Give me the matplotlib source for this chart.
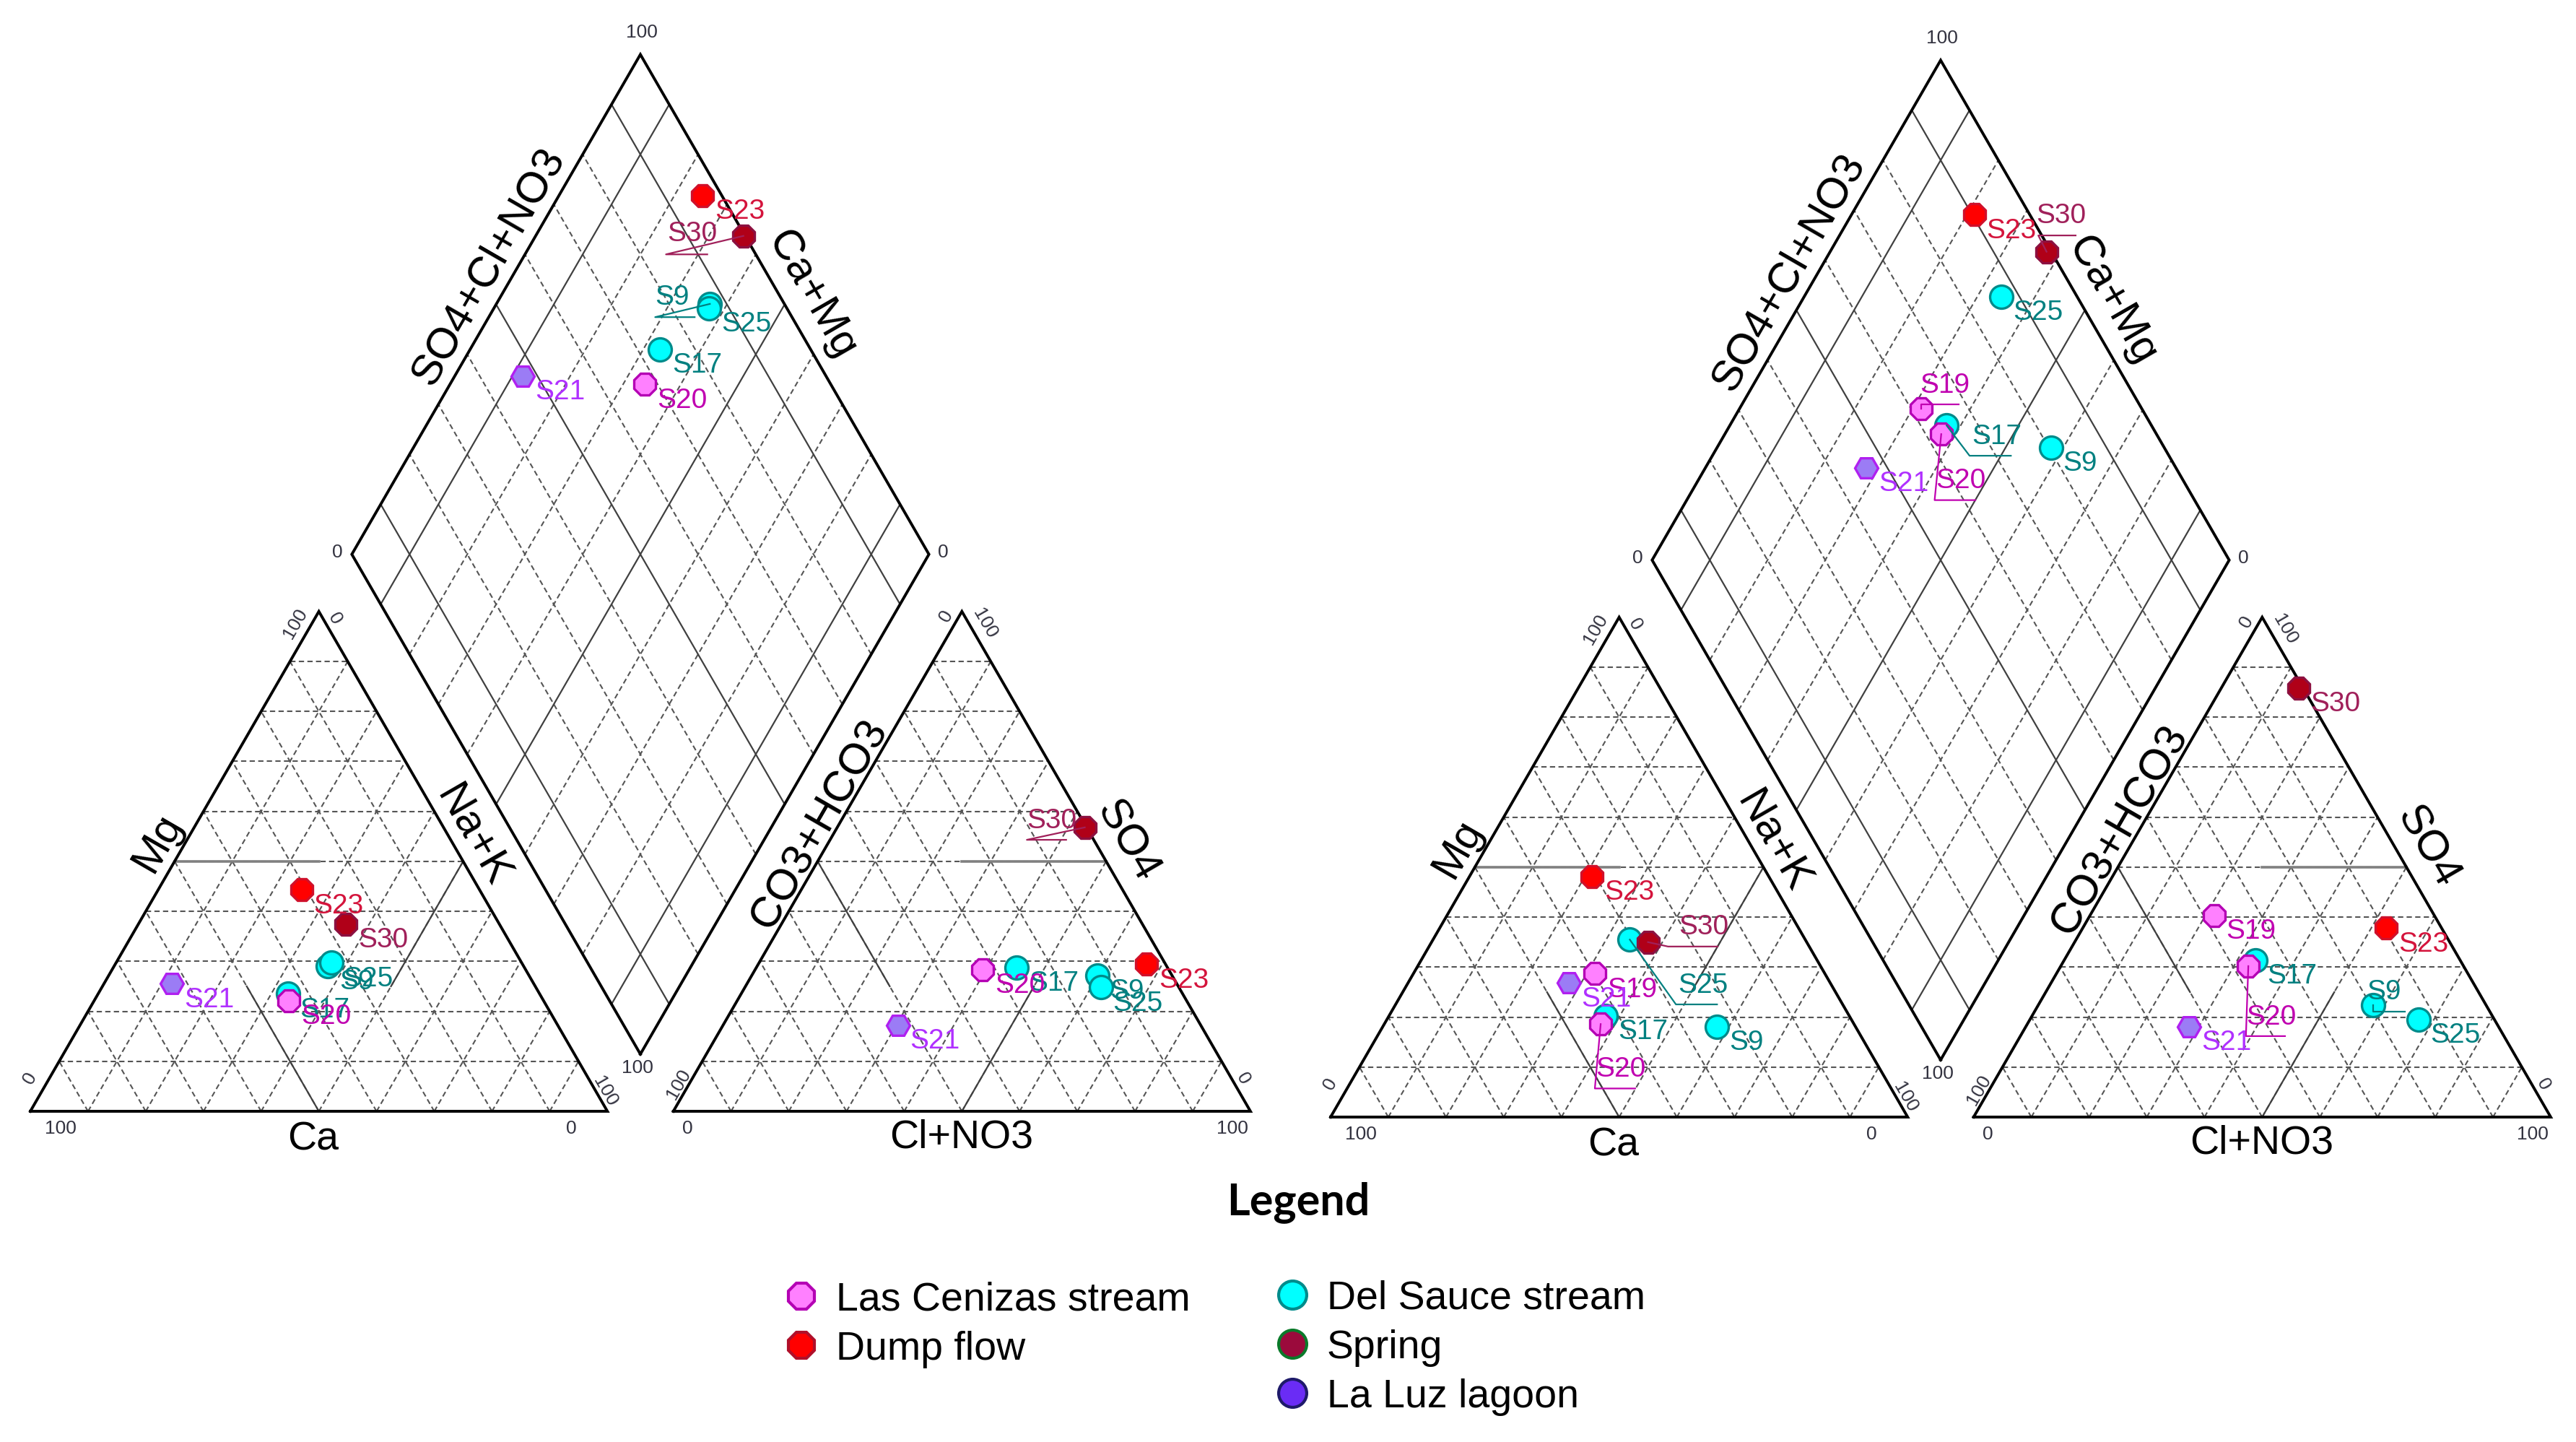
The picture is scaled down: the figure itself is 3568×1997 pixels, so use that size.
import numpy as np
import matplotlib
matplotlib.use('Agg')
import matplotlib.pyplot as plt
import matplotlib.transforms as mtransforms
from matplotlib.lines import Line2D

plt.rcParams['font.family'] = ['Liberation Sans', 'DejaVu Sans']

# ---- data: ion percentages (meq %) ----
# left diagram
samples_a = ['S9', 'S17', 'S20', 'S21', 'S23', 'S25', 'S30']
ca_a = [34.0, 43.6, 44.1, 62.7, 30.8, 33.0, 26.6]
mg_a = [29.0, 23.5, 22.1, 25.5, 44.3, 29.7, 37.4]
nak_a = [37.0, 32.9, 33.8, 11.8, 24.9, 37.3, 36.0]
hco3_a = [12.9, 26.1, 32.2, 52.5, 3.3, 13.5, 0.3]
so4_a = [27.2, 28.8, 28.3, 17.2, 29.4, 24.8, 56.8]
cl_a = [59.9, 45.1, 39.5, 30.3, 67.3, 61.7, 42.9]

# right diagram
samples_b = ['S9', 'S17', 'S19', 'S20', 'S21', 'S23', 'S25', 'S30']
ca_b = [24.0, 42.2, 39.8, 43.9, 45.3, 30.6, 30.4, 27.5]
mg_b = [18.1, 20.2, 28.7, 18.6, 26.8, 48.1, 35.5, 35.0]
nak_b = [57.9, 37.6, 31.5, 37.5, 27.9, 21.3, 34.1, 37.5]
hco3_b = [19.6, 35.5, 38.2, 37.3, 53.6, 9.6, 13.2, 0.8]
so4_b = [22.4, 31.4, 40.3, 30.2, 18.1, 37.8, 19.5, 85.8]
cl_b = [58.0, 33.1, 21.5, 32.5, 28.3, 52.6, 67.3, 13.4]

groups = ['Las Cenizas stream', 'Dump flow', 'Del Sauce stream', 'Spring', 'La Luz lagoon']
group_of = {'S9': 'Del Sauce stream', 'S17': 'Del Sauce stream', 'S25': 'Del Sauce stream',
            'S19': 'Las Cenizas stream', 'S20': 'Las Cenizas stream',
            'S23': 'Dump flow', 'S30': 'Spring', 'S21': 'La Luz lagoon'}

# ---- styles ----
marker_style = {
    'Las Cenizas stream': dict(marker='8', mfc='#FF80FF', mec='#B400B4'),
    'Dump flow': dict(marker='8', mfc='#FF0000', mec='#D0102A'),
    'Del Sauce stream': dict(marker='o', mfc='#00FFFF', mec='#008B8B'),
    'Spring': dict(marker='8', mfc='#B00018', mec='#8C1040'),
    'La Luz lagoon': dict(marker='H', mfc='#9B7CF5', mec='#B020F0'),
}
label_color = {'Las Cenizas stream': '#C000B0', 'Dump flow': '#D4143C',
               'Del Sauce stream': '#008080', 'Spring': '#A0205A',
               'La Luz lagoon': '#B030FF'}
legend_style = {
    'Las Cenizas stream': dict(marker='8', mfc='#FF80FF', mec='#B400B4'),
    'Dump flow': dict(marker='8', mfc='#FF0000', mec='#B0102A'),
    'Del Sauce stream': dict(marker='o', mfc='#00FFFF', mec='#008B8B'),
    'Spring': dict(marker='o', mfc='#9B0A3C', mec='#0A7A2A'),
    'La Luz lagoon': dict(marker='o', mfc='#6A2CF5', mec='#1E1A6A'),
}
draw_order = ['Del Sauce stream', 'Las Cenizas stream', 'Dump flow', 'Spring', 'La Luz lagoon']

# label offsets (points) and leader lines that differ from the default
DEFAULT_OFF = (6, -8)
label_tweaks = [
    {('dia', 'S30'): ((-38, 1), [(-18, -9.2), (-38.6, -9.2), (0, 0)]),
     ('dia', 'S9'): ((-27.3, 3.1), [(-7.6, -6.6), (-27.3, -6.6), (0, 0)]),
     ('an', 'S30'): ((-28.9, 3.3), [(-9.3, -6.2), (-28.9, -6.2), (0, 0)])},
    {('dia', 'S30'): ((-5.2, 17.8), [(14.5, 8.1), (-4.1, 8.1), (0, 0)]),
     ('dia', 'S19'): ((-0.6, 11.6), [(18.6, 2), (0, 2), (0, 0)]),
     ('dia', 'S17'): ((12.4, -5.5), [(32, -15), (11.4, -15), (0, 0)]),
     ('dia', 'S20'): ((-2.7, -23.3), [(17, -32.9), (-3.3, -32.9), (0, 0)]),
     ('cat', 'S30'): ((15.2, 7.3), [(34.7, -2.2), (10, -2.2), (0, 0)]),
     ('cat', 'S25'): ((24, -23.1), [(43.5, -32.3), (23, -32.3), (0, 0)]),
     ('cat', 'S20'): ((-2.3, -22.6), [(17.2, -32.1), (-2.9, -32.1), (0, 0)]),
     ('an', 'S20'): ((-1.2, -25.7), [(18.3, -34.9), (-1.2, -34.9), (0, 0)]),
     ('an', 'S9'): ((-3, 6.4), [(16, -3.3), (0, -3.3), (0, 0)])},
]

# ---- geometry ----
W, H = 3568, 1997
SIDE = 799.3
GAP = 0.1143
R3 = np.sqrt(3) / 2
origins = [(42 / SIDE, (H - 1539) / SIDE), (1843 / SIDE, (H - 1547) / SIDE)]
B = np.array([1 + GAP / 2, GAP * R3])


def cation_xy(ca, mg, nak):
    t = ca + mg + nak
    return nak / t + mg / t / 2, mg / t * R3


def anion_xy(hco3, so4, cl):
    t = hco3 + so4 + cl
    return 1 + GAP + cl / t + so4 / t / 2, so4 / t * R3


def diamond_pt(camg, a):
    return B[0] + (a - camg) / 2, B[1] + (a + camg) * R3


fig = plt.figure(figsize=(W / 200, H / 200), dpi=200)
ax = fig.add_axes([0, 0, 1, 1])
ax.set_xlim(0, W / SIDE)
ax.set_ylim(0, H / SIDE)
ax.axis('off')

outline = dict(color='black', lw=1.4, solid_joinstyle='miter', zorder=2)
dashed = dict(color='#555555', lw=0.75, ls=(0, (3.5, 2.2)), zorder=1)
thin = dict(color='#404040', lw=0.8, zorder=1.5)
tick_kw = dict(fontsize=9.5, color='#333340', ha='center', va='center',
               rotation_mode='anchor')

tick_labels = [('100', 0.053, -0.03, 0), ('0', 0.938, -0.03, 0),
               ('0', 0.0, 0.057, 60), ('100', 0.459, 0.845, 60),
               ('0', 0.528, 0.853, -60), ('100', 0.996, 0.034, -60),
               ('0', 1.1395, -0.03, 0), ('100', 2.0826, -0.03, 0),
               ('100', 1.1237, 0.047, 60), ('0', 1.587, 0.8575, 60),
               ('100', 1.6537, 0.845, -60), ('0', 2.1018, 0.0564, -60),
               ('100', 1.06, 1.869, 0), ('0', 0.532, 0.968, 0),
               ('0', 1.582, 0.968, 0), ('100', 1.052, 0.075, 0)]
titles = [('Ca', 0.49, -0.049, 0, 20), ('Mg', 0.22, 0.465, 60, 21.5),
          ('Na+K', 0.766, 0.478, -60, 21.5), ('Cl+NO3', 1.6135, -0.046, 0, 20),
          ('CO3+HCO3', 1.368, 0.497, 60, 21.5), ('SO4', 1.9, 0.468, -60, 21.5),
          ('SO4+Cl+NO3', 0.794, 1.463, 60, 21.5), ('Ca+Mg', 1.354, 1.415, -60, 21.5)]


def draw_frame(ox, oy):
    for x0 in (0, 1 + GAP):
        ax.plot(ox + x0 + np.array([0, 1, 0.5, 0]), oy + np.array([0, 0, R3, 0]), **outline)
    dia = np.array([diamond_pt(0, 0), diamond_pt(1, 0), diamond_pt(1, 1),
                    diamond_pt(0, 1), diamond_pt(0, 0)])
    ax.plot(ox + dia[:, 0], oy + dia[:, 1], **outline)
    for i in range(1, 10):
        f = i / 10
        for x0 in (0, 1 + GAP):
            ax.plot(ox + x0 + np.array([f / 2, 1 - f / 2]), oy + np.array([f * R3] * 2), **dashed)
            ax.plot(ox + x0 + np.array([f, f / 2]), oy + np.array([0, f * R3]), **dashed)
            ax.plot(ox + x0 + np.array([f, (1 + f) / 2]), oy + np.array([0, (1 - f) * R3]), **dashed)
        st = thin if i in (1, 5, 9) else dashed
        p, q = diamond_pt(0, f), diamond_pt(1, f)
        ax.plot([ox + p[0], ox + q[0]], [oy + p[1], oy + q[1]], **st)
        p, q = diamond_pt(f, 0), diamond_pt(f, 1)
        ax.plot([ox + p[0], ox + q[0]], [oy + p[1], oy + q[1]], **st)
    # facies boundaries in the triangles
    a0 = 1 + GAP
    ax.plot(ox + np.array([0.25, 0.5]), oy + np.array([R3 / 2] * 2), color='#808080', lw=1.3, zorder=1.5)
    ax.plot(ox + np.array([0.5, 0.375]), oy + np.array([0, R3 / 4]), **thin)
    ax.plot(ox + np.array([0.75, 0.625]), oy + np.array([R3 / 2, R3 / 4]), **thin)
    ax.plot(ox + a0 + np.array([0.5, 0.75]), oy + np.array([R3 / 2] * 2), color='#808080', lw=1.3, zorder=1.5)
    ax.plot(ox + a0 + np.array([0.25, 0.375]), oy + np.array([R3 / 2, R3 / 4]), **thin)
    ax.plot(ox + a0 + np.array([0.5, 0.625]), oy + np.array([0, R3 / 4]), **thin)
    for s, x, y, r in tick_labels:
        ax.text(ox + x, oy + y, s, rotation=r, **tick_kw)
    for s, x, y, r, fs in titles:
        ax.text(ox + x, oy + y, s, rotation=r, fontsize=fs, ha='center', va='center',
                rotation_mode='anchor', color='black')


def leader(x, y, pts, color):
    tr = (mtransforms.Affine2D().scale(1 / 72.) + fig.dpi_scale_trans
          + mtransforms.ScaledTranslation(x, y, ax.transData))
    xs, ys = zip(*pts)
    ax.add_line(Line2D(xs, ys, transform=tr, color=color, lw=0.8, zorder=3.5))


def draw_panel(k, samples, ca, mg, nak, hco3, so4, cl):
    ox, oy = origins[k]
    draw_frame(ox, oy)
    ca, mg, nak = map(np.asarray, (ca, mg, nak))
    hco3, so4, cl = map(np.asarray, (hco3, so4, cl))
    cx, cy = cation_xy(ca, mg, nak)
    axx, ayy = anion_xy(hco3, so4, cl)
    tc = ca + mg + nak
    ta = hco3 + so4 + cl
    dx, dy = diamond_pt(1 - nak / tc, (so4 + cl) / ta)
    pos = {'cat': (cx, cy), 'an': (axx, ayy), 'dia': (dx, dy)}
    for g in draw_order:
        idx = [i for i, s in enumerate(samples) if group_of[s] == g]
        if not idx:
            continue
        for key, (px, py) in pos.items():
            ax.plot(ox + px[idx], oy + py[idx], ls='none', ms=11.5, mew=1.2,
                    zorder=3, **marker_style[g])
    for key, (px, py) in pos.items():
        for i, s in enumerate(samples):
            col = label_color[group_of[s]]
            off, pts = label_tweaks[k].get((key, s), (DEFAULT_OFF, None))
            x, y = ox + px[i], oy + py[i]
            ax.annotate(s, xy=(x, y), xytext=off, textcoords='offset points',
                        ha='left', va='center', fontsize=14, color=col, zorder=4)
            if pts:
                leader(x, y, pts, col)


draw_panel(0, samples_a, ca_a, mg_a, nak_a, hco3_a, so4_a, cl_a)
draw_panel(1, samples_b, ca_b, mg_b, nak_b, hco3_b, so4_b, cl_b)

# ---- legend ----
fig.text(0.504, 0.166, 'Legend', fontsize=22, weight='bold', ha='center', va='center',
         family=['Lato', 'DejaVu Sans'])
handles = [Line2D([], [], ls='none', ms=14, mew=1.5, label=g, **legend_style[g]) for g in groups]
leg_kw = dict(loc='upper left', frameon=False, fontsize=20, handlelength=1.0,
              handletextpad=0.35, borderpad=0, borderaxespad=0, labelspacing=0.29)
fig.legend(handles=handles[:2], bbox_to_anchor=(0.3034, 0.1113), **leg_kw)
fig.legend(handles=handles[2:], bbox_to_anchor=(0.494, 0.1124), **leg_kw)

fig.savefig('out.png', dpi=200)
